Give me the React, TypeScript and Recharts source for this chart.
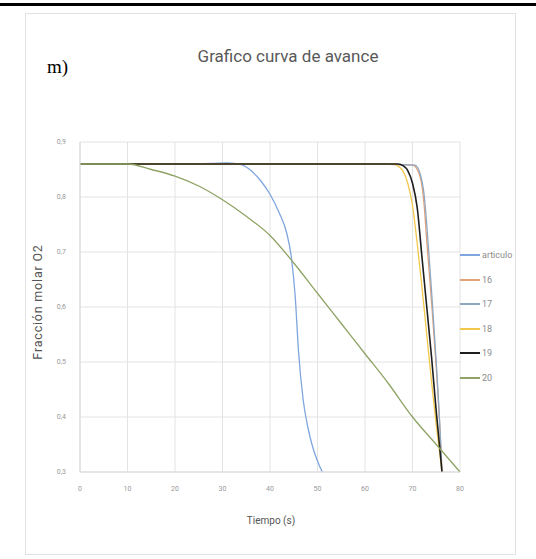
import React from "react";
import { LineChart, Line, XAxis, YAxis, CartesianGrid } from "recharts";

const xTicks = [0, 10, 20, 30, 40, 50, 60, 70, 80];
const yTicks = [0.3, 0.4, 0.5, 0.6, 0.7, 0.8, 0.9];

const tArticulo = [0, 10, 20, 28, 31, 34, 36, 38, 40, 42, 43.5, 44.5, 45.3, 46, 47, 48, 49, 50, 51];
const yArticulo = [0.86, 0.86, 0.86, 0.861, 0.862, 0.859, 0.848, 0.83, 0.805, 0.77, 0.735, 0.69, 0.62, 0.52, 0.43, 0.38, 0.345, 0.32, 0.3];

const t16 = [0, 20, 40, 60, 70, 71, 72, 72.5, 73, 74, 75, 76, 76.2];
const y16 = [0.86, 0.86, 0.86, 0.86, 0.858, 0.85, 0.82, 0.78, 0.72, 0.61, 0.49, 0.34, 0.3];

const t17 = [0, 20, 40, 60, 70.5, 71.5, 72.5, 73, 74, 75, 76, 76.2];
const y17 = [0.86, 0.86, 0.86, 0.86, 0.858, 0.845, 0.8, 0.75, 0.63, 0.5, 0.34, 0.3];

const t18 = [0, 20, 40, 60, 66, 67, 68, 69, 70, 71, 72, 73, 74, 75, 76, 76.2];
const y18 = [0.86, 0.86, 0.86, 0.86, 0.86, 0.856, 0.847, 0.825, 0.785, 0.715, 0.635, 0.55, 0.465, 0.385, 0.315, 0.3];

const t19 = [0, 20, 40, 60, 67, 68, 69, 70, 71, 72, 73, 74, 75, 76, 76.2];
const y19 = [0.86, 0.86, 0.86, 0.86, 0.86, 0.857, 0.848, 0.825, 0.78, 0.69, 0.6, 0.51, 0.41, 0.32, 0.3];

const t20 = [0, 5, 10, 15, 20, 25, 30, 35, 40, 45, 50, 55, 60, 65, 70, 75, 80];
const y20 = [0.86, 0.86, 0.86, 0.85, 0.838, 0.82, 0.795, 0.765, 0.73, 0.68, 0.625, 0.57, 0.515, 0.46, 0.4, 0.35, 0.3];

const seriesNames = ["articulo", "16", "17", "18", "19", "20"];
const seriesColors = ["#7fa6de", "#e3a178", "#8fa8c2", "#f2c84b", "#1e1e1e", "#8ea364"];
const seriesWidths = [1.3, 1.3, 1.3, 1.3, 1.6, 1.3];

const zip = (ts: number[], ys: number[]) => ts.map((t, i) => ({ t, v: ys[i] }));

const seriesData = [
  zip(tArticulo, yArticulo),
  zip(t16, y16),
  zip(t17, y17),
  zip(t18, y18),
  zip(t19, y19),
  zip(t20, y20),
];

const fmt = (v: number) => String(Math.round(v * 10) / 10).replace(".", ",");

export default function App() {
  return (
    <div style={{ position: "absolute", left: 0, top: 0, width: 536, height: 559, background: "#fff", overflow: "hidden" }}>
      <div style={{ position: "absolute", left: 0, top: 3, width: 536, height: 3, background: "#000" }} />
      <div style={{ position: "absolute", left: 25, top: 13, width: 491, height: 542, border: "1px solid #e2e2e2", boxSizing: "border-box" }} />
      <div style={{ position: "absolute", left: 47, top: 56, fontFamily: "'Liberation Serif', serif", fontSize: 19, color: "#000" }}>m)</div>
      <div style={{ position: "absolute", left: 0, width: 576, top: 46, textAlign: "center", fontFamily: "Roboto, sans-serif", fontSize: 17, color: "#595959" }}>
        Grafico curva de avance
      </div>
      <div style={{ position: "absolute", left: 0, width: 542, top: 515, textAlign: "center", fontFamily: "Roboto, sans-serif", fontSize: 10, color: "#555" }}>
        Tiempo (s)
      </div>
      <div style={{ position: "absolute", left: 37, top: 302, transform: "translate(-50%, -50%) rotate(-90deg)", whiteSpace: "nowrap", fontFamily: "Roboto, sans-serif", fontSize: 12.5, letterSpacing: 0.8, color: "#555" }}>
        Fracción molar O2
      </div>
      <div style={{ position: "absolute", left: 0, top: 0 }}>
        <LineChart width={536} height={559} margin={{ top: 142, right: 76, bottom: 57, left: 50 }}>
          <CartesianGrid stroke="#e3e3e3" strokeWidth={1} />
          <XAxis
            dataKey="t"
            type="number"
            domain={[0, 80]}
            ticks={xTicks}
            allowDuplicatedCategory={false}
            tickLine={false}
            axisLine={{ stroke: "#d9d9d9" }}
            height={30}
            tick={{ fontSize: 7, fill: "#999", fontFamily: "Roboto, sans-serif" }}
            tickMargin={8}
          />
          <YAxis
            type="number"
            domain={[0.3, 0.9]}
            ticks={yTicks}
            tickFormatter={fmt}
            tickLine={false}
            axisLine={{ stroke: "#d9d9d9" }}
            width={30}
            tick={{ fontSize: 7, fill: "#999", fontFamily: "Roboto, sans-serif" }}
            tickMargin={8}
          />
          {seriesNames.map((name, i) => (
            <Line
              key={name}
              data={seriesData[i]}
              dataKey="v"
              name={name}
              type="monotone"
              stroke={seriesColors[i]}
              strokeWidth={seriesWidths[i]}
              dot={false}
              isAnimationActive={false}
            />
          ))}
        </LineChart>
      </div>
      <div style={{ position: "absolute", left: 460, top: 243 }}>
        {seriesNames.map((name, i) => (
          <div key={name} style={{ display: "flex", alignItems: "center", height: 24.5 }}>
            <div style={{ width: 20, height: 2, background: seriesColors[i] }} />
            <span style={{ marginLeft: 2, fontSize: 9, color: "#8c8c8c", fontFamily: "Roboto, sans-serif" }}>{name}</span>
          </div>
        ))}
      </div>
    </div>
  );
}
